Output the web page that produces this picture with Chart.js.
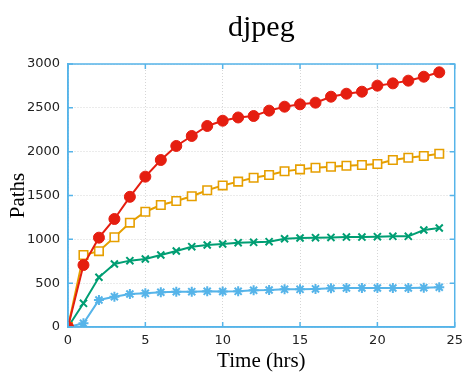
<!DOCTYPE html>
<html lang="en">
<head>
    <meta charset="UTF-8">
    <title>djpeg</title>
    <style>
        html, body {
            margin: 0;
            padding: 0;
            background: #fff;
        }
        #box {
            width: 469px;
            height: 374px;
        }
    </style>
    <script src="https://cdn.jsdelivr.net/npm/chart.js"></script>
</head>
<body>
    <div id="box"><canvas id="pathsChart"></canvas></div>
    <script>
        // hours 0..24
        const hours = [0, 1, 2, 3, 4, 5, 6, 7, 8, 9, 10, 11, 12, 13, 14, 15, 16, 17, 18, 19, 20, 21, 22, 23, 24];

        const redPaths = [0, 707, 1019, 1232, 1485, 1715, 1905, 2065, 2179, 2293, 2353, 2390, 2407, 2468, 2513, 2540, 2559, 2627, 2661, 2684, 2753, 2779, 2810, 2855, 2905];
        const orangePaths = [0, 821, 865, 1023, 1190, 1315, 1392, 1437, 1492, 1560, 1615, 1658, 1703, 1734, 1776, 1798, 1817, 1828, 1840, 1848, 1859, 1905, 1931, 1950, 1977];
        const greenPaths = [0, 270, 567, 719, 757, 776, 821, 867, 916, 935, 947, 962, 966, 973, 1007, 1015, 1019, 1022, 1026, 1026, 1030, 1034, 1034, 1106, 1129];
        const bluePaths = [0, 42, 308, 346, 376, 384, 396, 403, 403, 407, 405, 407, 418, 422, 430, 430, 434, 441, 445, 445, 445, 445, 445, 449, 453];

        const xTicks = [0, 5, 10, 15, 20, 25];
        const yTicks = [0, 500, 1000, 1500, 2000, 2500, 3000];

        const chartTitle = 'djpeg';
        const frameColor = '#56b4e9';

        function points(values) {
            return values.map((v, i) => ({ x: hours[i], y: v }));
        }

        // gnuplot style box with inward ticks on all four sides
        const framePlugin = {
            id: 'frame',
            afterDatasetsDraw(chart) {
                const { ctx, chartArea: a, scales } = chart;
                ctx.save();
                ctx.strokeStyle = frameColor;
                ctx.lineWidth = 1.5;
                ctx.strokeRect(a.left, a.top, a.right - a.left, a.bottom - a.top);
                ctx.beginPath();
                xTicks.forEach(t => {
                    const px = scales.x.getPixelForValue(t);
                    ctx.moveTo(px, a.bottom); ctx.lineTo(px, a.bottom - 5);
                    ctx.moveTo(px, a.top); ctx.lineTo(px, a.top + 5);
                });
                yTicks.forEach(t => {
                    const py = scales.y.getPixelForValue(t);
                    ctx.moveTo(a.left, py); ctx.lineTo(a.left + 5, py);
                    ctx.moveTo(a.right, py); ctx.lineTo(a.right - 5, py);
                });
                ctx.stroke();
                ctx.restore();
            }
        };

        // title centred over the plot box, not the whole canvas
        const plotTitlePlugin = {
            id: 'plotTitle',
            afterDraw(chart) {
                const { ctx, chartArea: a } = chart;
                ctx.save();
                ctx.font = '30px "Liberation Serif"';
                ctx.fillStyle = '#000';
                ctx.textAlign = 'center';
                ctx.textBaseline = 'middle';
                ctx.fillText(chartTitle, (a.left + a.right) / 2, 28);
                ctx.restore();
            }
        };

        const gridStyle = {
            color: 'rgba(0,0,0,0.16)',
            lineWidth: 1,
            drawTicks: false
        };

        const tickFont = { family: 'DejaVu Sans', size: 13 };

        new Chart(document.getElementById('pathsChart'), {
            type: 'line',
            data: {
                datasets: [
                    {
                        data: points(redPaths),
                        borderColor: '#e51e10',
                        backgroundColor: '#e51e10',
                        borderWidth: 2,
                        pointStyle: 'circle',
                        pointRadius: 5.5,
                        pointBorderWidth: 1
                    },
                    {
                        data: points(orangePaths),
                        borderColor: '#e69f00',
                        backgroundColor: '#ffffff',
                        borderWidth: 2,
                        pointStyle: 'rect',
                        pointRadius: 6,
                        pointBorderWidth: 1.6
                    },
                    {
                        data: points(greenPaths),
                        borderColor: '#009e73',
                        backgroundColor: '#009e73',
                        borderWidth: 2,
                        pointStyle: 'crossRot',
                        pointRadius: 5,
                        pointBorderWidth: 2
                    },
                    {
                        data: points(bluePaths),
                        borderColor: frameColor,
                        backgroundColor: frameColor,
                        borderWidth: 2,
                        pointStyle: 'star',
                        pointRadius: 5,
                        pointBorderWidth: 2
                    }
                ]
            },
            options: {
                responsive: true,
                maintainAspectRatio: false,
                animation: false,
                layout: { padding: { left: 0, right: 13, top: 64, bottom: 0 } },
                plugins: {
                    legend: { display: false },
                    tooltip: { enabled: false },
                    title: { display: false }
                },
                scales: {
                    x: {
                        type: 'linear',
                        min: 0,
                        max: 25,
                        afterBuildTicks: s => { s.ticks = xTicks.map(v => ({ value: v })); },
                        afterFit: s => { s.height = 47; },
                        grid: gridStyle,
                        border: { display: true, color: frameColor, width: 1.5, dash: [1, 2] },
                        ticks: {
                            color: '#222',
                            padding: 6,
                            font: tickFont,
                            callback: v => String(v)
                        },
                        title: {
                            display: true,
                            text: 'Time (hrs)',
                            color: '#000',
                            font: { family: 'Liberation Serif', size: 21 },
                            padding: { top: 6, bottom: 0 }
                        }
                    },
                    y: {
                        min: 0,
                        max: 3000,
                        afterBuildTicks: s => { s.ticks = yTicks.map(v => ({ value: v })); },
                        afterFit: s => { s.width = 68; },
                        grid: gridStyle,
                        border: { display: true, color: frameColor, width: 1.5, dash: [1, 2] },
                        ticks: {
                            color: '#222',
                            padding: 8,
                            font: tickFont,
                            callback: v => String(v)
                        },
                        title: {
                            display: true,
                            text: 'Paths',
                            color: '#000',
                            font: { family: 'Liberation Serif', size: 21 },
                            padding: { top: 6, bottom: 0 }
                        }
                    }
                }
            },
            plugins: [framePlugin, plotTitlePlugin]
        });
    </script>
</body>
</html>
